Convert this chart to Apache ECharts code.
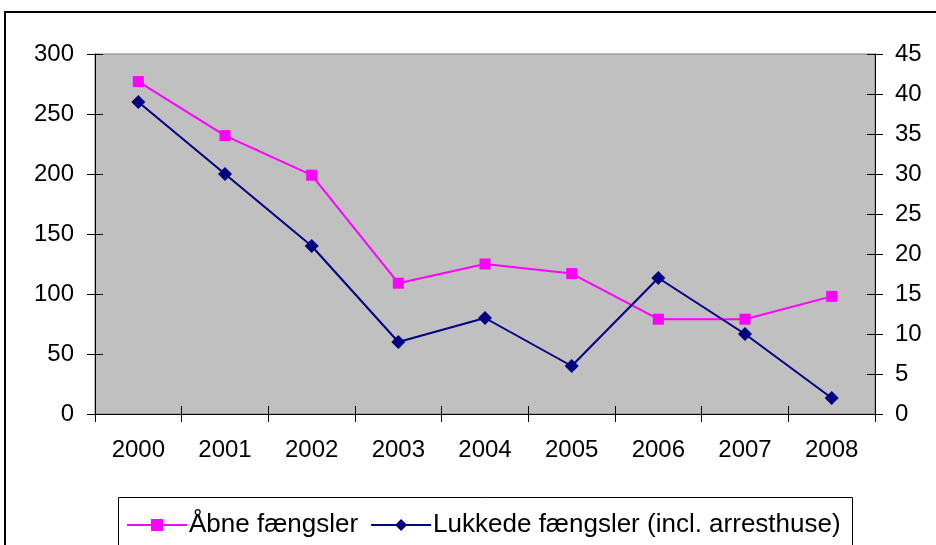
<!DOCTYPE html>
<html><head><meta charset="utf-8">
<script src="https://cdn.jsdelivr.net/npm/echarts@6/dist/echarts.min.js"></script>
<style>html,body{margin:0;padding:0;background:#fff}#c{width:936px;height:545px}</style>
</head><body><div id="c"></div>
<script>
var years = ['2000','2001','2002','2003','2004','2005','2006','2007','2008'];
var aabne = [277, 232, 199, 109, 125, 117, 79, 79, 98];
var lukkede = [39, 30, 21, 9, 12, 6, 17, 10, 2];
var leftTicks = {min: 0, max: 300, interval: 50};
var rightTicks = {min: 0, max: 45, interval: 5};
var F = 'Liberation Sans, Arial, sans-serif';
var chart = echarts.init(document.getElementById('c'));
var axLine = {show: true, lineStyle: {color: '#000', width: 1}};
var tick = function (inside) { return {show: true, inside: inside, length: 8, lineStyle: {color: '#000'}}; };
chart.setOption({
  animation: false,
  backgroundColor: '#fff',
  textStyle: {fontFamily: F},
  grid: {left: 95, right: 61, top: 54, bottom: 131, show: true, backgroundColor: '#c0c0c0', borderColor: '#808080', borderWidth: 1},
  graphic: [
    {type: 'rect', shape: {x: 5, y: 12, width: 960, height: 560}, style: {fill: 'none', stroke: '#000', lineWidth: 2}, z: 100},
    {type: 'rect', shape: {x: 118.5, y: 497.5, width: 734, height: 80}, style: {fill: 'none', stroke: '#000', lineWidth: 1}, z: 100}
  ],
  legend: {
    left: 121, top: 507, itemWidth: 60, itemHeight: 15, itemGap: 12,
    textStyle: {fontFamily: F, fontSize: 26, color: '#000', padding: [0,0,0,-3]},
    data: ['Åbne fængsler', 'Lukkede fængsler (incl. arresthuse)']
  },
  xAxis: [
    {type: 'category', data: years, boundaryGap: true, axisLine: axLine, axisTick: tick(false),
     axisLabel: {margin: 24, fontSize: 24, color: '#000', fontFamily: F}, splitLine: {show: false}},
    {type: 'category', data: years, boundaryGap: true, position: 'bottom', axisLine: {show: false},
     axisTick: tick(true), axisLabel: {show: false}}
  ],
  yAxis: [
    {type: 'value', min: leftTicks.min, max: leftTicks.max, interval: leftTicks.interval, position: 'left',
     axisLine: axLine, axisTick: tick(false),
     axisLabel: {margin: 21, fontSize: 24, color: '#000', fontFamily: F}, splitLine: {show: false}},
    {type: 'value', min: rightTicks.min, max: rightTicks.max, interval: rightTicks.interval, position: 'right',
     axisLine: axLine, axisTick: tick(false),
     axisLabel: {margin: 20, fontSize: 24, color: '#000', fontFamily: F}, splitLine: {show: false}},
    {type: 'value', min: leftTicks.min, max: leftTicks.max, interval: leftTicks.interval, position: 'left',
     axisLine: {show: false}, axisTick: tick(true), axisLabel: {show: false}, splitLine: {show: false}},
    {type: 'value', min: rightTicks.min, max: rightTicks.max, interval: rightTicks.interval, position: 'right',
     axisLine: {show: false}, axisTick: tick(true), axisLabel: {show: false}, splitLine: {show: false}}
  ],
  series: [
    {name: 'Åbne fængsler', type: 'line', yAxisIndex: 0, data: aabne, symbol: 'rect', symbolSize: 11,
     lineStyle: {color: '#ff00ff', width: 2}, itemStyle: {color: '#ff00ff'}, z: 3},
    {name: 'Lukkede fængsler (incl. arresthuse)', type: 'line', yAxisIndex: 1, data: lukkede, symbol: 'diamond', symbolSize: 14,
     lineStyle: {color: '#000080', width: 2}, itemStyle: {color: '#000080'}, z: 4}
  ]
});
</script></body></html>
